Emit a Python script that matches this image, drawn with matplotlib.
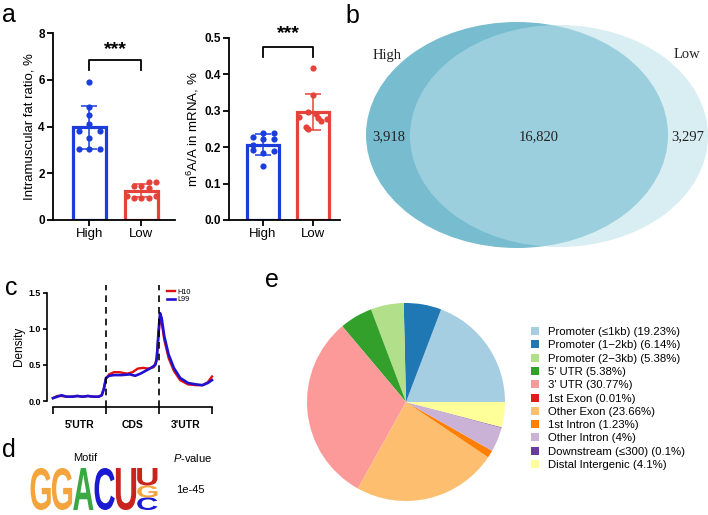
import numpy as np
import matplotlib
matplotlib.use("Agg")
import matplotlib.pyplot as plt
from matplotlib.patches import Ellipse, PathPatch, Patch
from matplotlib.textpath import TextPath
from matplotlib.font_manager import FontProperties
from matplotlib.transforms import Affine2D

plt.rcParams['font.family'] = ['Liberation Sans', 'DejaVu Sans']
plt.rcParams['mathtext.fontset'] = 'custom'
plt.rcParams['mathtext.it'] = 'Liberation Sans:italic'
plt.rcParams['mathtext.rm'] = 'Liberation Sans'

# ---- data ----
groups = ['High', 'Low']
imf_high = [5.9, 4.85, 4.5, 4.1, 3.8, 3.8, 3.5, 3.05, 3.05, 3.05]
imf_low = [1.61, 1.61, 1.47, 1.47, 1.39, 1.03, 1.03, 0.96, 0.96, 0.96]
m6a_high = [0.240, 0.240, 0.227, 0.223, 0.223, 0.206, 0.192, 0.183, 0.190, 0.149]
m6a_low = [0.418, 0.343, 0.296, 0.290, 0.284, 0.279, 0.277, 0.272, 0.256, 0.249]
# horizontal spread of the dots (fraction of category spacing)
jit_imf_high = [0, 0, 0, 0, -0.2, 0.2, 0, -0.2, 0, 0.2]
jit_imf_low = [0.14, 0.28, -0.14, 0, 0.14, -0.28, 0.28, -0.14, 0, 0.14]
jit_m6a_high = [0, 0.21, -0.21, 0, 0.21, -0.21, -0.21, 0, 0.21, 0]
jit_m6a_low = [0, 0, -0.1, 0.05, -0.28, 0.1, 0.28, 0.15, -0.15, -0.1]

venn_labels = ['High', 'Low']
venn_counts = [3918, 16820, 3297]

metagene_x_h10 = [0.00, 0.08, 0.16, 0.26, 0.36, 0.46, 0.56, 0.66, 0.76, 0.86, 0.92, 0.96,
                  1.00, 1.06, 1.15, 1.25, 1.40, 1.50, 1.60, 1.70, 1.80, 1.90, 1.95, 1.99,
                  2.02, 2.05, 2.10, 2.18, 2.28, 2.40, 2.55, 2.70, 2.82, 2.92, 3.00]
metagene_y_h10 = [0.04, 0.07, 0.07, 0.06, 0.06, 0.07, 0.06, 0.07, 0.06, 0.06, 0.08, 0.17,
                  0.31, 0.37, 0.40, 0.40, 0.38, 0.40, 0.45, 0.46, 0.45, 0.47, 0.55, 0.90,
                  1.17, 1.10, 0.85, 0.60, 0.42, 0.29, 0.23, 0.22, 0.22, 0.26, 0.34]
metagene_x_l99 = [0.00, 0.08, 0.16, 0.26, 0.36, 0.46, 0.56, 0.66, 0.76, 0.86, 0.92, 0.96,
                  1.00, 1.06, 1.15, 1.30, 1.45, 1.55, 1.65, 1.75, 1.85, 1.93, 1.96, 1.99,
                  2.02, 2.05, 2.10, 2.18, 2.28, 2.40, 2.55, 2.70, 2.82, 2.92, 3.00]
metagene_y_l99 = [0.04, 0.06, 0.08, 0.06, 0.06, 0.07, 0.06, 0.07, 0.06, 0.06, 0.08, 0.17,
                  0.32, 0.35, 0.36, 0.36, 0.37, 0.35, 0.38, 0.42, 0.46, 0.50, 0.60, 0.95,
                  1.22, 1.15, 0.90, 0.65, 0.46, 0.32, 0.25, 0.23, 0.22, 0.25, 0.29]
regions = ["5'UTR", 'CDS', "3'UTR"]

motif_cols = [[('G', 2.0)], [('G', 2.0)], [('A', 2.0)], [('C', 2.0)], [('U', 2.0)],
              [('C', 0.6), ('G', 0.57), ('U', 0.83)]]
motif_pvalue = '1e-45'

anno_labels = ['Promoter (\u22641kb)', 'Promoter (1\u22122kb)', 'Promoter (2\u22123kb)',
               "5' UTR", "3' UTR", '1st Exon', 'Other Exon', '1st Intron',
               'Other Intron', 'Downstream (\u2264300)', 'Distal Intergenic']
anno_pct = [19.23, 6.14, 5.38, 5.38, 30.77, 0.01, 23.66, 1.23, 4, 0.1, 4.1]
anno_colors = ['#a6cee3', '#1f78b4', '#b2df8a', '#33a02c', '#fb9a99', '#e31a1c',
               '#fdbf6f', '#ff7f00', '#cab2d6', '#6a3d9a', '#ffff99']

BLUE = '#1a3ddc'
RED = '#e5423a'

W, H = 708, 515


def rect(x0, y0, x1, y1):
    return [x0 / W, 1 - y1 / H, (x1 - x0) / W, (y1 - y0) / H]


fig = plt.figure(figsize=(W / 100, H / 100), dpi=100)

# overlay in pixel coordinates for labels and the venn diagram
ov = fig.add_axes([0, 0, 1, 1], zorder=-1)
ov.set_xlim(0, W)
ov.set_ylim(H, 0)
ov.axis('off')


def bar_panel(ax, high, low, jh, jl, top, yticks, ylabel, br):
    for i, (v, j, c) in enumerate([(high, jh, BLUE), (low, jl, RED)]):
        v = np.array(v)
        m, sd = v.mean(), v.std(ddof=1)
        ax.bar(i, m, width=0.64, facecolor='white', edgecolor=c, linewidth=2.3, zorder=2)
        ax.errorbar(i, m, yerr=sd, color=c, capsize=5.5, elinewidth=1.1, capthick=1.1, zorder=3)
        ax.scatter(i + np.array(j), v, s=20, color=c, zorder=4, linewidths=0)
    ax.set_ylim(0, top)
    ax.set_yticks(yticks)
    ax.set_xticks([0, 1])
    ax.set_xticklabels(groups, fontsize=9.5)
    for t in ax.get_yticklabels():
        t.set_fontweight('bold')
        t.set_fontsize(8.5)
    ax.set_ylabel(ylabel, fontsize=9.5, labelpad=2)
    for s in ['top', 'right']:
        ax.spines[s].set_visible(False)
    for s in ['left', 'bottom']:
        ax.spines[s].set_linewidth(1.3)
    ax.tick_params(width=1.3, length=4, pad=2)
    y1, y2, ys = br
    ax.plot([0, 0, 1, 1], [y1, y2, y2, y1], color='black', lw=1.3, clip_on=False)
    ax.text(0.5, ys, '***', ha='center', va='center', fontsize=14, fontweight='bold', clip_on=False)


ax1 = fig.add_axes(rect(53, 33, 175, 220))
ax1.set_xlim(-0.7, 1.65)
bar_panel(ax1, imf_high, imf_low, jit_imf_high, jit_imf_low, 8, [0, 2, 4, 6, 8],
          'Intramuscular fat ratio, %', (6.41, 6.84, 7.3))

ax2 = fig.add_axes(rect(229, 38, 340, 220))
ax2.set_xlim(-0.68, 1.54)
bar_panel(ax2, m6a_high, m6a_low, jit_m6a_high, jit_m6a_low, 0.5,
          [0.0, 0.1, 0.2, 0.3, 0.4, 0.5], 'm$^6$A/A in mRNA, %', (0.448, 0.475, 0.513))
ax2.set_yticklabels(['0.0', '0.1', '0.2', '0.3', '0.4', '0.5'], fontweight='bold', fontsize=8.5)

# ---- b: venn ----
ov.add_patch(Ellipse((517, 135), 302, 226, facecolor='#78bcd0', edgecolor='none'))
ov.add_patch(Ellipse((559, 136), 298, 222, facecolor='#b8e0e9', alpha=0.55, edgecolor='none'))
serif = dict(family='Liberation Serif', fontsize=10.5, ha='center', va='center', color='#222222')
ov.text(387, 55, venn_labels[0], **serif)
ov.text(687, 55, venn_labels[1], **serif)
ov.text(389, 137, f'{venn_counts[0]:,}', **serif)
ov.text(539, 137, f'{venn_counts[1]:,}', **serif)
ov.text(688, 137, f'{venn_counts[2]:,}', **serif)

# ---- c: metagene density ----
ax3 = fig.add_axes(rect(47, 285, 215, 407))
ax3.plot(metagene_x_h10, metagene_y_h10, color='#e01010', lw=1.7, label='H10')
ax3.plot(metagene_x_l99, metagene_y_l99, color='#2010d0', lw=1.9, label='L99')
ax3.axvline(1, color='black', ls=(0, (4, 3)), lw=1.2)
ax3.axvline(2, color='black', ls=(0, (4, 3)), lw=1.2)
ax3.set_xlim(-0.113, 3.057)
ax3.set_ylim(-0.083, 1.61)
ax3.spines['top'].set_visible(False)
ax3.spines['right'].set_visible(False)
ax3.spines['left'].set_bounds(0, 1.5)
ax3.spines['bottom'].set_bounds(0, 3)
ax3.spines['left'].set_linewidth(1.2)
ax3.spines['bottom'].set_linewidth(1.2)
ax3.set_yticks([0, 0.5, 1.0, 1.5])
ax3.set_yticklabels(['0.0', '0.5', '1.0', '1.5'], fontsize=6.4, fontweight='bold')
ax3.set_xticks([0, 1, 2, 3])
ax3.set_xticklabels([])
ax3.set_xticks([0.5, 1.5, 2.5], minor=True)
ax3.set_xticklabels(regions, minor=True, fontsize=7.5, fontweight='bold')
ax3.tick_params(axis='x', which='major', direction='out', length=5, width=1.2)
ax3.tick_params(axis='x', which='minor', length=0, pad=9)
ax3.tick_params(axis='y', length=3, width=1.2, pad=1.5)
ax3.set_ylabel('Density', fontsize=8.5, labelpad=2)
ax3.legend(loc='upper left', bbox_to_anchor=(0.69, 1.0), frameon=False, fontsize=5.2,
           handlelength=1.2, handletextpad=0.3, labelspacing=0.1, borderpad=0)

# ---- d: motif ----
ax4 = fig.add_axes(rect(30, 468, 158, 510))
ax4.set_xlim(0, len(motif_cols))
ax4.set_ylim(0, 2)
ax4.axis('off')
motif_colors = {'G': '#f3a43c', 'A': '#3aa845', 'C': '#1a1ad2', 'U': '#c8231d'}
fp = FontProperties(family='Liberation Sans', weight='bold')
for i, col in enumerate(motif_cols):
    base = 0
    for ch, h in col:
        tp = TextPath((0, 0), ch, size=1, prop=fp)
        bb = tp.get_extents()
        tr = Affine2D().translate(-bb.x0, -bb.y0).scale(0.95 / bb.width, h / bb.height) \
            .translate(i + 0.025, base)
        ax4.add_patch(PathPatch(tr.transform_path(tp), facecolor=motif_colors[ch],
                                edgecolor='none'))
        base += h
ov.text(85, 458, 'Motif', fontsize=8, ha='center', va='center')
ov.text(193, 458, '$P$-value', fontsize=8, ha='center', va='center')
ov.text(190, 490, motif_pvalue, fontsize=8, ha='center', va='center')

# ---- e: pie ----
ax5 = fig.add_axes(rect(307, 303, 505, 501))
wedges, _ = ax5.pie(anno_pct, colors=anno_colors, startangle=0, counterclock=True,
                    wedgeprops=dict(linewidth=0))
ax5.set_xlim(-1, 1)
ax5.set_ylim(-1, 1)
ax5.set_aspect('equal')
handles = [Patch(facecolor=c, edgecolor='none') for c in anno_colors]
labels = [f'{l} ({p:g}%)' for l, p in zip(anno_labels, anno_pct)]
fig.legend(handles, labels, loc='upper left', bbox_to_anchor=(531 / W, 1 - 327 / H),
           frameon=False, fontsize=8.2, handlelength=0.7, handleheight=0.7,
           handletextpad=0.75, labelspacing=0.29, borderpad=0, borderaxespad=0)

# panel letters
for ch, x, y in [('a', 2, 22), ('b', 345, 23), ('c', 5, 295), ('d', 2, 457), ('e', 265, 287)]:
    ov.text(x, y, ch, fontsize=18, va='baseline', ha='left')

fig.savefig('out.png', dpi=100)
